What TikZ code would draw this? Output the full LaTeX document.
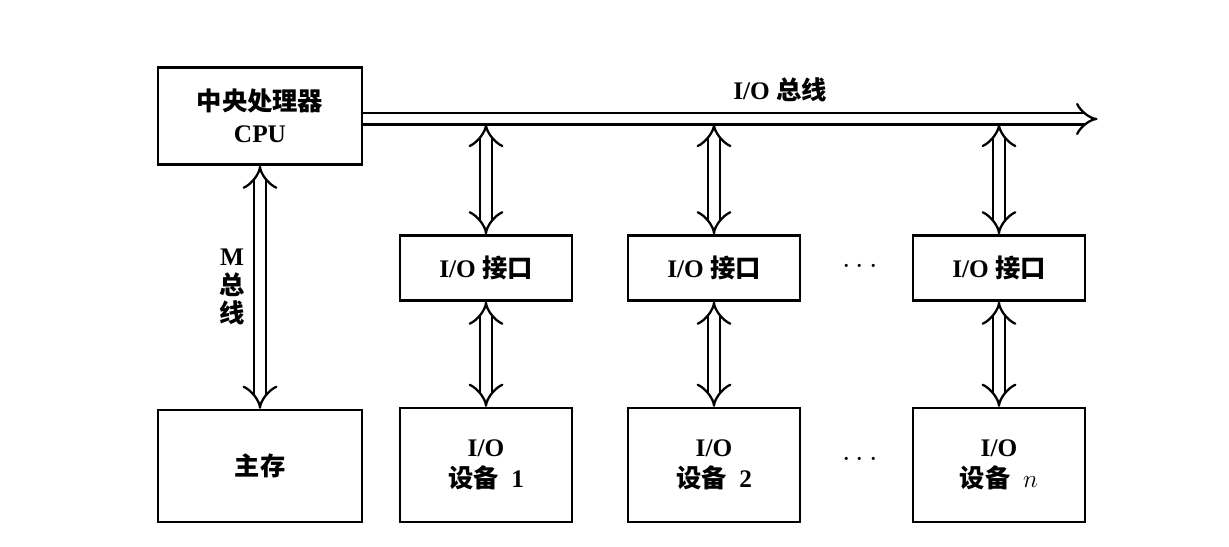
\documentclass[tikz,border=0pt]{standalone}
\usepackage{fontspec}
\setmainfont{Liberation Serif}
\newfontfamily\cjk{Noto Sans CJK SC}
\usetikzlibrary{arrows.meta,positioning}

\tikzset{
  box/.style={draw, line width=1.4pt, align=center, font=\bfseries\Large},
  bus/.style={double, line width=1.3pt, double distance=0.2cm, {Implies}-{Implies}},
}

\begin{document}
\begin{tikzpicture}
\useasboundingbox (0,0) rectangle (24.58,10.94);

% boxes
\node[box, minimum width=4.08cm, minimum height=1.94cm] (cpu) at (5.2,8.62) {{\cjk 中央处理器}\\CPU};
\node[box, minimum width=4.08cm, minimum height=2.24cm] (mem) at (5.2,1.62) {\cjk 主存};

\foreach \n/\x/\t in {1/9.72/1, 2/14.28/2, 3/19.98/$n$}{
  \node[box, minimum width=3.44cm, minimum height=1.3cm] (if\n) at (\x,5.58) {I/O {\cjk 接口}};
  \node[box, minimum width=3.44cm, minimum height=2.28cm] (dev\n) at (\x,1.64) {I/O\\{\cjk 设备}~~\t};
  \coordinate (b\n) at (\x,8.46);
}

% bus
\coordinate (busend) at (21.95,8.56);
\draw[double, line width=1.3pt, double distance=0.18cm, -{Implies}] (cpu.east |- busend) -- (busend);
\node[font=\bfseries\Large] (buslabel) at (15.6,9.14) {I/O {\cjk 总线}};

\draw[bus] (cpu.south) -- (mem.north);
\node[font=\bfseries\Large, align=center] (mlabel) at (4.64,5.2) {M\\[-2pt]{\cjk 总}\\[-2pt]{\cjk 线}};

\foreach \n in {1,2,3}{
  \draw[bus] (b\n) -- (if\n.north);
  \draw[bus] (if\n.south) -- (dev\n.north);
}

\node[font=\bfseries\LARGE] (dots1) at (17.2,5.6) {$\cdots$};
\node[font=\bfseries\LARGE] (dots2) at (17.2,1.74) {$\cdots$};
\end{tikzpicture}
\end{document}
